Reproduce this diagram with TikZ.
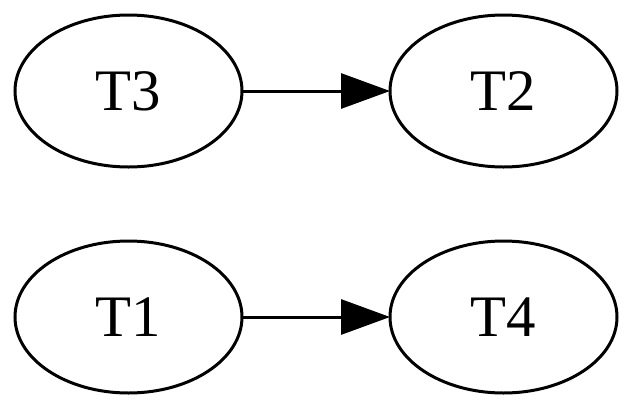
\documentclass[tikz,border=0pt]{standalone}
\usepackage{fontspec}
\setmainfont{Liberation Serif}
\usepackage{tikz}
\usetikzlibrary{shapes.geometric}
\usetikzlibrary{arrows.meta}

\begin{document}
\begin{tikzpicture}[x=0.25pt,y=-0.25pt]
\tikzset{task/.style={draw,ellipse,line width=0.75pt,inner sep=0pt,outer sep=0pt,minimum width=56.75pt,minimum height=38pt,font=\fontsize{14.7pt}{17pt}\selectfont}}
\tikzset{flow/.style={-{Triangle[length=12.25pt,width=8.75pt]},line width=0.75pt,black}}
\useasboundingbox (0,0) rectangle (633,408);
\node (t3) at (128.5,91) [task] {T3};
\node (t2) at (503.5,91) [task] {T2};
\node (t1) at (128.5,317) [task] {T1};
\node (t4) at (503.5,317) [task] {T4};


\path
(t3) edge [flow] (t2)
(t1) edge [flow] (t4);
\end{tikzpicture}
\end{document}
